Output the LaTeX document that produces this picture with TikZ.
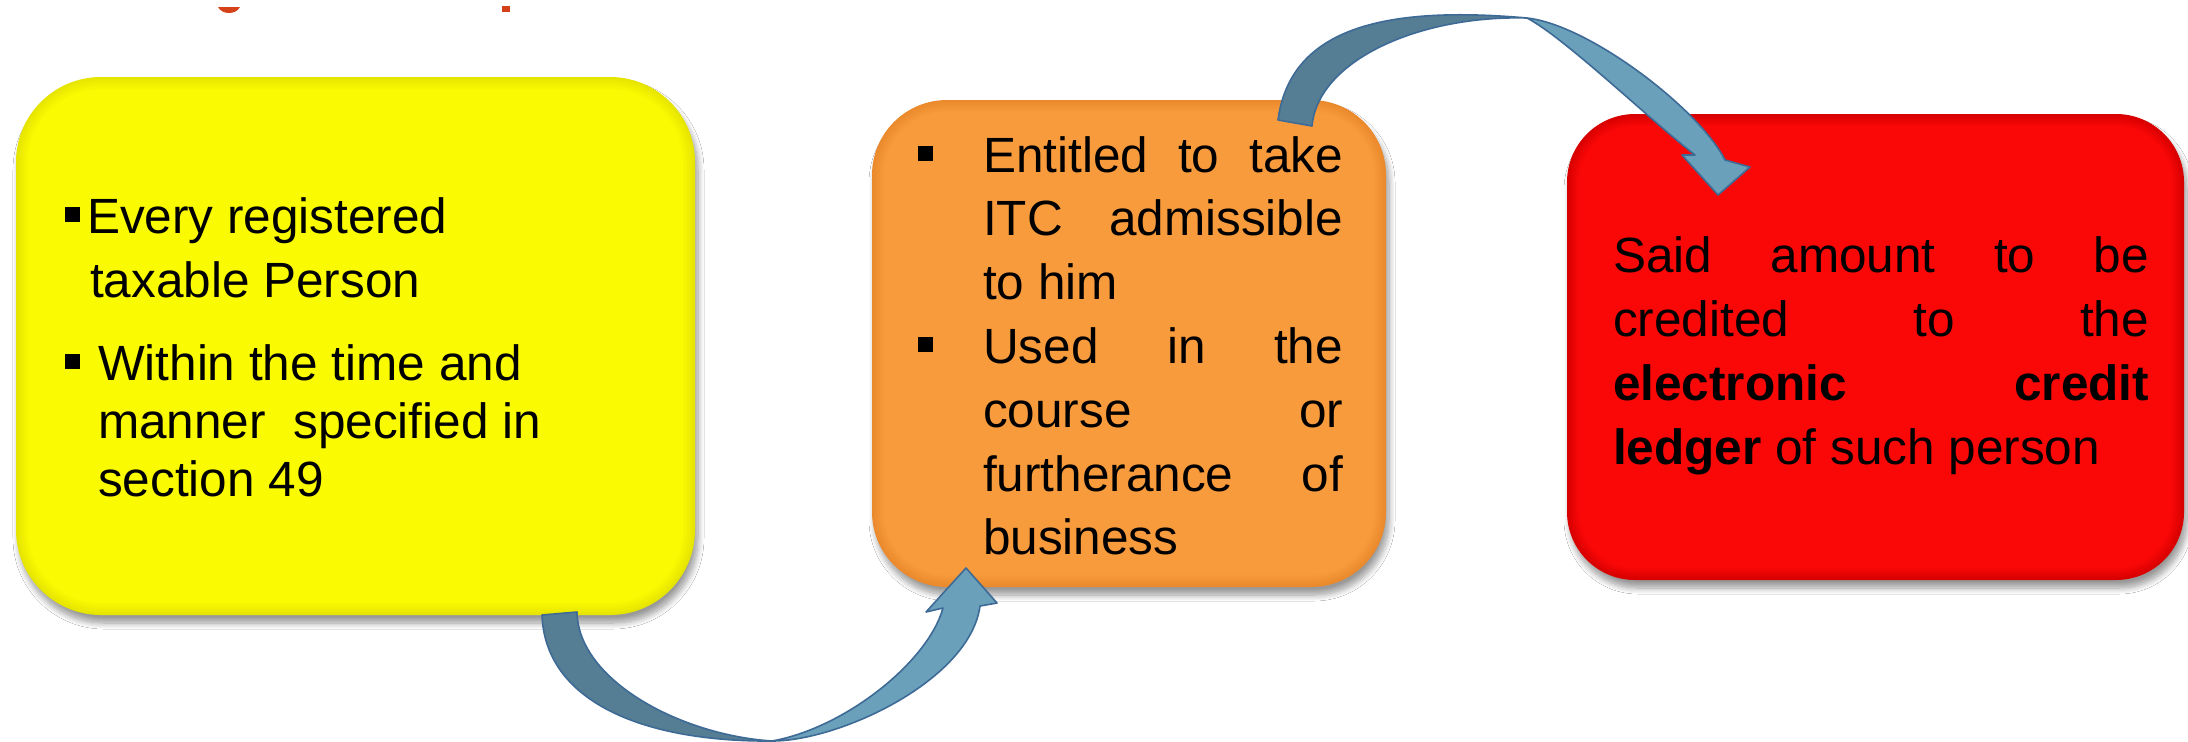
\documentclass[tikz,border=0pt]{standalone}
\usepackage{fontspec}
\setmainfont{Liberation Sans}
\usetikzlibrary{shadows.blur}
\definecolor{ycen}{HTML}{FAFA02}
\definecolor{yedge}{HTML}{E6E400}
\definecolor{ocen}{HTML}{F89B3C}
\definecolor{oedge}{HTML}{EA8A2C}
\definecolor{rcen}{HTML}{FA0808}
\definecolor{redge}{HTML}{D80000}
\definecolor{adark}{HTML}{557D94}
\definecolor{alight}{HTML}{6BA0BB}
\definecolor{aline}{HTML}{3E6A96}
\definecolor{titlec}{HTML}{D5421A}
\newcommand{\bul}{\rule[5.5pt]{7.5pt}{7.5pt}}
\newcommand{\glossy}[7]{%
  \foreach \i in {1,...,8}{
    \pgfmathtruncatemacro\pct{\i*12.5}
    \pgfmathsetmacro\rr{max(#5-1.5*\i,5)*0.5}
    \fill[color=#7!\pct!#6, rounded corners=\rr pt] ({#1+1.5*\i},{#2+1.5*\i}) rectangle ({#3-1.5*\i},{#4-1.5*\i});
  }%
}
\tikzset{
  boxbase/.style={rounded corners=#1, draw=none, inner sep=0pt,
    blur shadow={shadow xshift=1.5pt, shadow yshift=-4pt, shadow blur steps=10, shadow blur radius=3pt, shadow opacity=40}},
  txt/.style={anchor=base west, inner sep=0pt, outer sep=0pt, text=black,
    font=\fontsize{24.75pt}{32pt}\selectfont},
  arrowdark/.style={fill=adark, draw=aline, line width=0.8pt, line join=round},
  arrowlight/.style={fill=alight, draw=aline, line width=0.8pt, line join=round},
}
\begin{document}
\begin{tikzpicture}[x=0.5pt,y=-0.5pt]
\useasboundingbox (0,0) rectangle (2188,741);
\fill[white] (0,0) rectangle (2188,741);
% clipped title fragments
\fill[titlec] (218,7) .. controls (222,15) and (236,15) .. (240,7) -- cycle;
\fill[titlec] (502,6) rectangle (510,12);
% yellow box
\node[boxbase=42.5pt, fill=yedge, minimum width=339.5pt, minimum height=269pt] (ybox) at (355.5,346) {};
\glossy{16}{77}{695}{615}{85}{yedge}{ycen}
% orange box
\node[boxbase=37.5pt, fill=oedge, minimum width=257pt, minimum height=243.5pt] (obox) at (1129,343.5) {};
\glossy{872}{100}{1386}{587}{75}{oedge}{ocen}
% red box
\node[boxbase=34pt, fill=redge, minimum width=308.5pt, minimum height=233pt] (rbox) at (1875.5,347) {};
\glossy{1567}{114}{2184}{580}{68}{redge}{rcen}
% texts
\node[txt] (ytext) at (65,233) {\parbox[t]{260pt}{\baselineskip=29pt\lineskiplimit=-100pt
\bul\hspace{3.5pt}Every registered\\[3pt]
\hspace*{12.5pt}taxable Person\\[12.5pt]
\bul\hspace{9pt}Within the time and\\
\hspace*{16.5pt}manner\ \ specified in\\
\hspace*{16.5pt}section 49}};
\node[txt] (otext) at (918,172) {\parbox[t]{212.5pt}{\baselineskip=31.9pt\lineskiplimit=-100pt
\bul\hspace{25pt}\makebox[180pt][s]{Entitled to take}\\
\hspace*{32.5pt}\makebox[180pt][s]{ITC admissible}\\
\hspace*{32.5pt}to him\\
\bul\hspace{25pt}\makebox[180pt][s]{Used in the}\\
\hspace*{32.5pt}\makebox[180pt][s]{course or}\\
\hspace*{32.5pt}\makebox[180pt][s]{furtherance of}\\
\hspace*{32.5pt}business}};
\node[txt] (rtext) at (1613,272) {\parbox[t]{268pt}{\baselineskip=32.15pt\lineskiplimit=-100pt
\makebox[268pt][s]{Said amount to be}\\
\makebox[268pt][s]{credited to the}\\
\makebox[268pt][s]{\textbf{electronic} \textbf{credit}}\\
\textbf{ledger} of such person}};
% arrow 1 (yellow -> orange)
\coordinate (a1t1) at (542,615);
\coordinate (a1t2) at (577,612);
\coordinate (a1m) at (772,741);
\draw[arrowdark] (a1t1) .. controls (545,700) and (640,742) .. (a1m) .. controls (680,735) and (578,680) .. (a1t2) -- cycle;
\draw[arrowlight] (a1m) .. controls (840,741) and (970,680) .. (980,606) -- (997,603) -- (966,568) -- (926,612) -- (943,608) .. controls (928,662) and (845,728) .. (a1m) -- cycle;
% arrow 2 (orange -> red)
\coordinate (a2t1) at (1278,120);
\coordinate (a2t2) at (1312,126);
\coordinate (a2m) at (1527,18);
\draw[arrowdark] (a2t1) .. controls (1290,30) and (1380,5) .. (a2m) .. controls (1420,15) and (1318,60) .. (a2t2) -- cycle;
\draw[arrowlight] (a2m) .. controls (1590,25) and (1700,110) .. (1725,160) -- (1750,167) -- (1718,195) -- (1682,155) -- (1695,155) .. controls (1650,120) and (1565,38) .. (a2m) -- cycle;
\end{tikzpicture}
\end{document}
